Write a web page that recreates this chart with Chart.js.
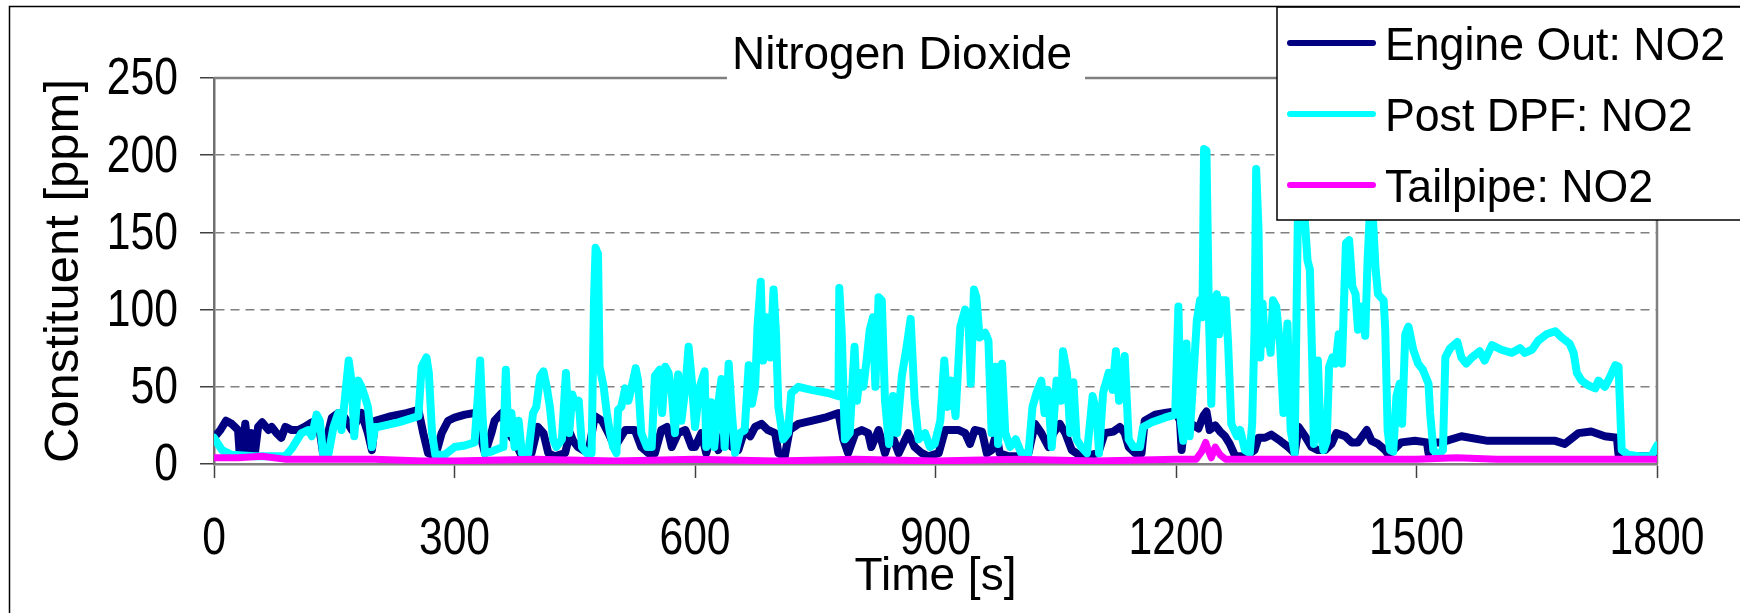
<!DOCTYPE html>
<html>
<head>
<meta charset="utf-8">
<title>Nitrogen Dioxide</title>
<script src="https://cdn.jsdelivr.net/npm/chart.js@4.4.1/dist/chart.umd.min.js"></script>
<style>
    html, body { margin: 0; padding: 0; background: #ffffff; }
    #wrap { width: 1740px; height: 613px; }
</style>
</head>
<body>
<div id="wrap"><canvas id="no2Chart" width="1740" height="613"></canvas></div>
<script>
    'use strict';

    // [time s, ppm]
    var engineOut = [
        [0, 17], [8, 22], [15, 28], [22, 26], [26, 24], [30, 22], [32, 7], [36, 8], [39, 26], [43, 7],
        [47, 20], [51, 7], [55, 24], [60, 27], [68, 22], [72, 24], [78, 20], [84, 17], [89, 24], [97, 22],
        [105, 22], [113, 24], [122, 27], [130, 28], [136, 7], [140, 15], [147, 30], [155, 33], [163, 30], [172, 22],
        [184, 33], [192, 20], [197, 9], [201, 28], [221, 31], [240, 33], [255, 35], [261, 20], [267, 7], [276, 5],
        [284, 20], [292, 28], [300, 30], [313, 32], [325, 33], [330, 30], [334, 15], [338, 7], [346, 20], [350, 28],
        [359, 33], [367, 20], [375, 15], [384, 5], [396, 7], [404, 24], [411, 20], [417, 7], [425, 5], [438, 7],
        [444, 20], [448, 15], [454, 11], [467, 7], [475, 31], [484, 28], [492, 20], [500, 11], [513, 22], [525, 22],
        [533, 11], [542, 7], [550, 7], [558, 22], [565, 24], [571, 11], [579, 20], [588, 22], [596, 11], [600, 11],
        [608, 20], [614, 7], [621, 20], [629, 9], [637, 22], [646, 11], [654, 9], [662, 22], [669, 18], [675, 24],
        [683, 26], [691, 22], [700, 20], [704, 7], [712, 5], [718, 22], [729, 26], [745, 28], [762, 30], [779, 33],
        [785, 16], [791, 7], [800, 20], [808, 22], [816, 20], [820, 11], [829, 22], [837, 7], [845, 20], [854, 7],
        [866, 20], [874, 11], [883, 7], [891, 5], [904, 7], [912, 22], [920, 22], [929, 22], [937, 20], [943, 13],
        [949, 22], [958, 21], [964, 7], [970, 9], [976, 20], [980, 7], [991, 5], [1003, 5], [1016, 7], [1024, 26],
        [1032, 20], [1041, 11], [1047, 20], [1055, 26], [1062, 20], [1070, 9], [1082, 5], [1095, 6], [1103, 7], [1111, 20],
        [1122, 21], [1130, 24], [1136, 20], [1141, 11], [1149, 7], [1157, 7], [1161, 28], [1174, 32], [1186, 33], [1199, 34],
        [1205, 28], [1207, 9], [1211, 28], [1219, 26], [1228, 23], [1234, 31], [1238, 34], [1242, 22], [1249, 25], [1255, 21],
        [1261, 18], [1267, 13], [1274, 5], [1286, 5], [1298, 9], [1303, 17], [1311, 17], [1319, 19], [1330, 15], [1340, 11],
        [1348, 7], [1353, 24], [1361, 18], [1369, 11], [1377, 9], [1386, 9], [1394, 13], [1400, 20], [1411, 18], [1419, 14],
        [1427, 14], [1438, 22], [1444, 15], [1452, 13], [1461, 9], [1465, 6], [1473, 10], [1481, 14], [1498, 15], [1513, 14],
        [1515, 7], [1520, 14], [1531, 14], [1556, 18], [1589, 15], [1631, 15], [1673, 15], [1685, 13], [1702, 20], [1718, 21],
        [1735, 18], [1750, 17], [1752, 6], [1760, 5], [1800, 5]
    ];

    var postDpf = [
        [0, 17], [10, 9], [22, 6], [51, 5], [89, 5], [97, 10], [109, 20], [118, 22], [122, 18], [128, 32],
        [132, 28], [136, 7], [143, 7], [149, 24], [155, 33], [159, 22], [163, 41], [168, 67], [172, 52], [175, 18],
        [180, 54], [184, 50], [188, 44], [192, 37], [197, 11], [201, 24], [205, 24], [230, 27], [255, 31], [259, 63],
        [265, 69], [268, 59], [272, 20], [276, 6], [288, 6], [300, 11], [313, 12], [325, 14], [330, 50], [332, 67],
        [335, 31], [338, 7], [346, 8], [355, 10], [361, 11], [364, 61], [367, 20], [371, 33], [375, 11], [380, 28],
        [384, 7], [392, 7], [398, 33], [402, 37], [407, 57], [411, 60], [415, 50], [419, 37], [423, 16], [427, 11],
        [434, 16], [439, 59], [443, 20], [447, 45], [451, 37], [455, 41], [459, 11], [465, 7], [471, 7], [474, 106],
        [476, 140], [479, 136], [481, 63], [486, 50], [490, 33], [494, 20], [498, 11], [502, 7], [504, 35], [508, 37],
        [513, 49], [517, 41], [521, 50], [526, 62], [529, 54], [533, 20], [540, 11], [546, 11], [550, 57], [556, 61],
        [559, 33], [563, 63], [567, 59], [571, 46], [575, 20], [579, 58], [583, 28], [588, 49], [592, 76], [596, 54],
        [600, 24], [606, 50], [612, 60], [614, 11], [620, 40], [624, 11], [629, 39], [633, 55], [637, 11], [642, 65],
        [646, 33], [650, 7], [656, 20], [662, 22], [667, 64], [671, 39], [675, 50], [678, 89], [682, 118], [685, 67],
        [689, 95], [694, 69], [698, 113], [701, 85], [704, 37], [710, 16], [716, 20], [720, 46], [729, 50], [745, 48],
        [766, 46], [779, 44], [780, 114], [783, 85], [787, 16], [793, 20], [799, 76], [802, 41], [806, 59], [810, 50],
        [814, 67], [818, 87], [822, 95], [825, 50], [829, 108], [833, 106], [837, 41], [842, 13], [847, 44], [852, 20],
        [858, 57], [864, 76], [869, 94], [874, 41], [879, 16], [887, 20], [893, 11], [899, 13], [906, 28], [911, 67],
        [915, 37], [920, 54], [925, 31], [931, 89], [937, 100], [941, 95], [944, 52], [948, 113], [951, 108], [955, 82],
        [962, 85], [966, 80], [970, 20], [975, 63], [978, 13], [983, 65], [987, 20], [993, 11], [1000, 16], [1007, 7],
        [1016, 7], [1021, 37], [1026, 46], [1032, 54], [1036, 33], [1040, 48], [1045, 11], [1051, 54], [1057, 41], [1059, 73],
        [1064, 59], [1068, 20], [1072, 53], [1076, 16], [1082, 11], [1089, 7], [1096, 44], [1101, 33], [1104, 7], [1109, 46],
        [1116, 59], [1121, 48], [1125, 73], [1129, 41], [1136, 70], [1141, 16], [1147, 11], [1155, 11], [1159, 24], [1170, 27],
        [1186, 30], [1199, 32], [1203, 102], [1206, 28], [1209, 15], [1213, 78], [1217, 18], [1222, 59], [1226, 93], [1230, 106],
        [1233, 95], [1235, 204], [1238, 203], [1241, 97], [1244, 39], [1247, 104], [1251, 110], [1254, 84], [1257, 106], [1262, 106],
        [1265, 78], [1269, 26], [1276, 18], [1280, 22], [1286, 9], [1292, 7], [1295, 26], [1298, 87], [1300, 191], [1303, 151],
        [1305, 69], [1308, 104], [1311, 78], [1315, 87], [1318, 72], [1321, 106], [1325, 102], [1330, 76], [1334, 33], [1339, 91],
        [1343, 22], [1348, 7], [1352, 160], [1356, 178], [1361, 156], [1364, 132], [1367, 126], [1370, 65], [1372, 13], [1377, 67],
        [1380, 22], [1384, 9], [1388, 15], [1391, 63], [1395, 69], [1399, 65], [1403, 84], [1407, 65], [1412, 143], [1416, 145],
        [1420, 115], [1424, 110], [1427, 87], [1432, 102], [1436, 83], [1439, 132], [1442, 165], [1444, 172], [1446, 156], [1449, 126],
        [1452, 110], [1459, 106], [1461, 87], [1464, 22], [1467, 9], [1471, 8], [1475, 44], [1479, 52], [1482, 26], [1486, 84],
        [1490, 89], [1496, 74], [1502, 65], [1508, 61], [1515, 52], [1517, 33], [1521, 9], [1527, 6], [1533, 9], [1536, 69],
        [1542, 75], [1551, 79], [1556, 69], [1562, 65], [1569, 69], [1579, 73], [1585, 67], [1594, 77], [1606, 74], [1619, 72],
        [1629, 75], [1635, 72], [1644, 74], [1652, 80], [1662, 84], [1673, 86], [1681, 82], [1691, 78], [1696, 72], [1700, 59],
        [1706, 54], [1714, 51], [1723, 49], [1727, 54], [1735, 50], [1741, 56], [1748, 64], [1752, 63], [1756, 9], [1764, 6],
        [1777, 5], [1793, 5], [1800, 12]
    ];

    var tailpipe = [
        [0, 4], [30, 4], [60, 5], [90, 3], [120, 3], [150, 3], [200, 3], [260, 2], [300, 2], [400, 3],
        [500, 2], [600, 3], [700, 2], [800, 3], [900, 2], [1000, 3], [1100, 2], [1200, 3], [1225, 3], [1232, 8],
        [1237, 14], [1241, 8], [1244, 4], [1249, 11], [1255, 6], [1262, 3], [1300, 3], [1400, 3], [1500, 3], [1550, 4],
        [1600, 3], [1700, 3], [1800, 3]
    ];

    var seriesNames = ['Engine Out: NO2', 'Post DPF: NO2', 'Tailpipe: NO2'];
    var seriesColors = ['#000080', '#00ffff', '#ff00ff'];
    var xTicks = [0, 300, 600, 900, 1200, 1500, 1800];
    var yTicks = [0, 50, 100, 150, 200, 250];

    var TEXT_FONT = "'Liberation Sans', Arial, sans-serif";

    function toPoints(rows) {
        return rows.map(function (row) {
            return { x: row[0], y: row[1] };
        });
    }

    // narrow text: the reference uses a condensed face for tick labels
    function narrowText(ctx, text, x, y, align, squeeze) {
        ctx.save();
        ctx.translate(x, y);
        ctx.scale(squeeze, 1);
        ctx.textAlign = align;
        ctx.fillText(text, 0, 0);
        ctx.restore();
    }

    var decor = {
        id: 'no2Decor',
        beforeDraw: function (chart) {
            var ctx = chart.ctx;
            ctx.save();
            ctx.fillStyle = '#ffffff';
            ctx.fillRect(0, 0, chart.width, chart.height);
            ctx.restore();
        },
        beforeDatasetsDraw: function (chart) {
            var ctx = chart.ctx;
            var area = chart.chartArea;
            var yTop = chart.scales.y.getPixelForValue(250);

            ctx.save();
            ctx.strokeStyle = '#808080';
            ctx.lineWidth = 2.5;
            ctx.beginPath();
            ctx.moveTo(area.left, yTop);
            ctx.lineTo(area.right, yTop);
            ctx.lineTo(area.right, area.bottom);
            ctx.stroke();
            ctx.restore();
        },
        afterDraw: function (chart) {
            var ctx = chart.ctx;
            var xScale = chart.scales.x;
            var yScale = chart.scales.y;

            ctx.save();

            // tick labels, placed by the chart scales
            ctx.fillStyle = '#000000';
            ctx.font = '52px ' + TEXT_FONT;
            ctx.textBaseline = 'middle';
            yTicks.forEach(function (v) {
                narrowText(ctx, String(v), 178, yScale.getPixelForValue(v) + 2, 'right', 0.82);
            });
            xTicks.forEach(function (v) {
                narrowText(ctx, String(v), xScale.getPixelForValue(v), 540, 'center', 0.82);
            });

            // chart title sitting over the top frame line
            ctx.fillStyle = '#ffffff';
            ctx.fillRect(727, 18, 358, 64);
            ctx.fillStyle = '#000000';
            ctx.font = '46px ' + TEXT_FONT;
            ctx.textAlign = 'center';
            ctx.textBaseline = 'alphabetic';
            ctx.fillText('Nitrogen Dioxide', 902, 69);

            // legend box
            ctx.fillStyle = '#ffffff';
            ctx.fillRect(1277, 7, 470, 213);
            ctx.strokeStyle = '#000000';
            ctx.lineWidth = 1.5;
            ctx.strokeRect(1277, 7, 470, 213);

            var rows = [43, 114, 185];
            ctx.font = '47px ' + TEXT_FONT;
            ctx.textAlign = 'left';
            seriesNames.forEach(function (name, i) {
                ctx.strokeStyle = seriesColors[i];
                ctx.lineWidth = 6;
                ctx.lineCap = 'round';
                ctx.beginPath();
                ctx.moveTo(1290, rows[i]);
                ctx.lineTo(1373, rows[i]);
                ctx.stroke();

                ctx.fillStyle = '#000000';
                narrowText(ctx, name, 1385, rows[i] + 17, 'left', 0.95);
            });

            // outer chart border
            ctx.strokeStyle = '#000000';
            ctx.lineWidth = 1.5;
            ctx.strokeRect(9.5, 6.5, chart.width + 20, chart.height + 20);

            ctx.restore();
        }
    };

    var chart = new Chart(document.getElementById('no2Chart'), {
        type: 'line',
        data: {
            datasets: [
                {
                    label: seriesNames[0],
                    data: toPoints(engineOut),
                    borderColor: seriesColors[0],
                    borderWidth: 8,
                    order: 3
                },
                {
                    label: seriesNames[1],
                    data: toPoints(postDpf),
                    borderColor: seriesColors[1],
                    borderWidth: 8,
                    order: 2
                },
                {
                    label: seriesNames[2],
                    data: toPoints(tailpipe),
                    borderColor: seriesColors[2],
                    borderWidth: 7,
                    order: 1
                }
            ]
        },
        options: {
            responsive: false,
            animation: false,
            parsing: false,
            layout: {
                padding: { left: 0, right: 83, top: 78, bottom: 0 }
            },
            elements: {
                point: { radius: 0, hoverRadius: 0 },
                line: { tension: 0, fill: false, borderJoinStyle: 'round', borderCapStyle: 'round' }
            },
            plugins: {
                legend: { display: false },
                tooltip: { enabled: false },
                title: { display: false }
            },
            scales: {
                x: {
                    type: 'linear',
                    min: 0,
                    max: 1800,
                    afterFit: function (scale) {
                        scale.height = 149;
                    },
                    afterBuildTicks: function (scale) {
                        scale.ticks = xTicks.map(function (v) { return { value: v }; });
                    },
                    grid: {
                        drawOnChartArea: false,
                        drawTicks: true,
                        tickLength: 14,
                        tickColor: '#404040',
                        tickWidth: 1.5
                    },
                    border: { display: true, color: '#808080', width: 2.5 },
                    ticks: { display: false },
                    title: {
                        display: true,
                        text: 'Time [s]',
                        color: '#000000',
                        font: { family: TEXT_FONT, size: 46, lineHeight: 1 },
                        padding: { top: 0, bottom: 13 }
                    }
                },
                y: {
                    type: 'linear',
                    min: 0,
                    max: 250,
                    afterFit: function (scale) {
                        scale.width = 214;
                    },
                    afterBuildTicks: function (scale) {
                        scale.ticks = yTicks.map(function (v) { return { value: v }; });
                    },
                    grid: {
                        color: function (context) {
                            var v = context.tick ? context.tick.value : 0;
                            return (v === 0 || v === 250) ? 'rgba(0,0,0,0)' : '#808080';
                        },
                        lineWidth: 1.5,
                        drawTicks: true,
                        tickLength: 14,
                        tickColor: '#404040',
                        tickWidth: 1.5,
                        tickBorderDash: []
                    },
                    border: { display: true, color: '#707070', width: 2.5, dash: [9, 6] },
                    ticks: { display: false },
                    title: {
                        display: true,
                        text: 'Constituent [ppm]',
                        color: '#000000',
                        font: { family: TEXT_FONT, size: 49, lineHeight: 1 },
                        padding: { top: 40, bottom: 0 }
                    }
                }
            }
        },
        plugins: [decor]
    });
</script>
</body>
</html>
